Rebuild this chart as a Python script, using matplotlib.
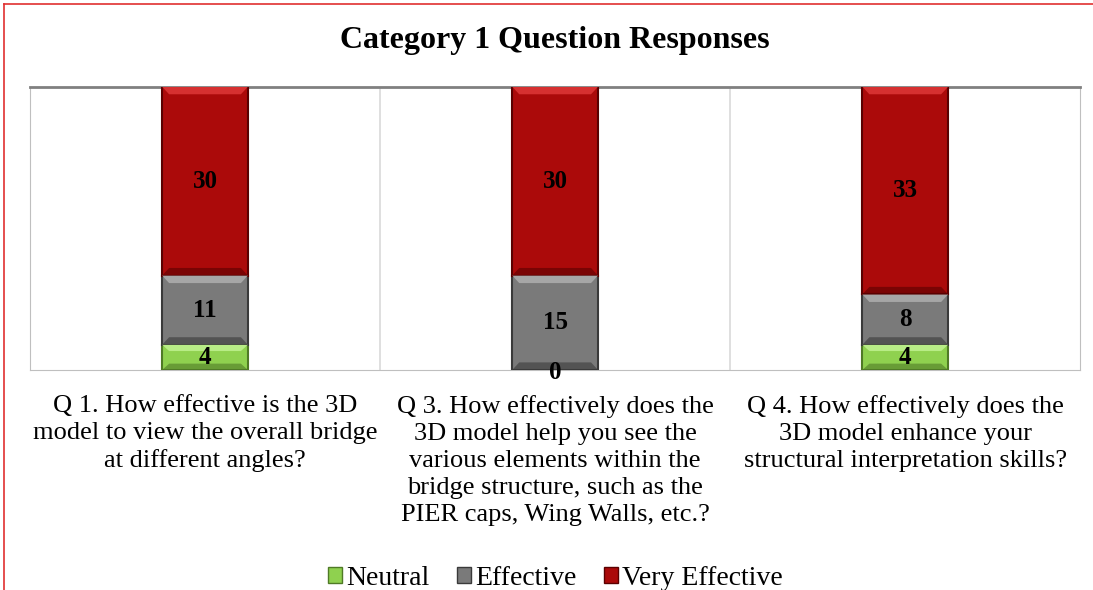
"""Category 1 question responses, stacked bars."""

import matplotlib.pyplot as plt
import numpy as np
from matplotlib.lines import Line2D
from matplotlib.patches import Patch, Polygon

plt.rcParams["font.family"] = ["Liberation Serif", "DejaVu Serif"]

questions = [
    "Q 1. How effective is the 3D\nmodel to view the overall bridge\nat different angles?",
    "Q 3. How effectively does the\n3D model help you see the\nvarious elements within the\nbridge structure, such as the\nPIER caps, Wing Walls, etc.?",
    "Q 4. How effectively does the\n3D model enhance your\nstructural interpretation skills?",
]
neutral = [4, 0, 4]
effective = [11, 15, 8]
very_effective = [30, 30, 33]

# name, values, face, edge, highlight
series = [
    ("Neutral", neutral, "#8fd14f", "#4f7a26", "#b8ec86"),
    ("Effective", effective, "#7a7a7a", "#3a3a3a", "#a6a6a6"),
    ("Very Effective", very_effective, "#ab0a0a", "#5a0000", "#d63030"),
]

BAR_W = 0.245

fig = plt.figure(figsize=(10.93, 5.90), dpi=100)
ax = fig.add_axes([0.0274, 0.373, 0.961, 0.480])

x = np.arange(len(questions))
bottom = np.zeros(len(questions))
for name, values, color, edge, light in series:
    vals = np.array(values, dtype=float)
    ax.bar(x, vals, bottom=bottom, width=BAR_W, color=color, edgecolor=edge,
           linewidth=1.5, label=name, zorder=3)
    # bevel highlight along the top of each segment
    for xi, b, v in zip(x, bottom, vals):
        if v <= 0:
            continue
        bev = min(1.2, v * 0.25)
        x0, x1 = xi - BAR_W / 2, xi + BAR_W / 2
        top = b + v
        ax.add_patch(Polygon([(x0, top), (x1, top), (x1 - 0.02, top - bev), (x0 + 0.02, top - bev)],
                             closed=True, facecolor=light, edgecolor="none", zorder=4))
        ax.add_patch(Polygon([(x0, b), (x1, b), (x1 - 0.02, b + bev), (x0 + 0.02, b + bev)],
                             closed=True, facecolor=edge, edgecolor="none", alpha=0.6, zorder=4))
    for xi, b, v in zip(x, bottom, vals):
        y = b + v / 2 if v > 0 else b - 0.4
        ax.text(xi, y, f"{int(v)}", ha="center", va="center", fontsize=18,
                fontweight="bold", color="black", zorder=5)
    bottom += vals

ax.set_xlim(-0.5, len(questions) - 0.5)
ax.set_ylim(0, 45)
ax.set_yticks([])
ax.set_xticks(x)
ax.set_xticklabels(questions, fontsize=19, linespacing=1.3)
ax.tick_params(axis="x", length=0, pad=18)
for xb in [0.5, 1.5]:
    ax.axvline(xb, color="#d9d9d9", linewidth=1.2, zorder=1)
for side in ["left", "right", "bottom"]:
    ax.spines[side].set_color("#bfbfbf")
ax.spines["top"].set_color("#808080")
ax.spines["top"].set_linewidth(2)

ax.set_title("Category 1 Question Responses", fontsize=23, fontweight="bold", pad=28)

handles = [Patch(facecolor=c, edgecolor=e, label=n) for n, _, c, e, _ in series]
fig.legend(handles=handles, loc="center", bbox_to_anchor=(0.508, 0.020), ncol=3,
           frameon=False, fontsize=20, handlelength=0.5, handleheight=0.5,
           handletextpad=0.15, columnspacing=1.0, borderpad=0.0)

# red frame along top and left edges
fig.add_artist(Line2D([0.004, 1.0], [0.994, 0.994], color="#e03030", linewidth=1.2,
                      transform=fig.transFigure))
fig.add_artist(Line2D([0.004, 0.004], [0.0, 0.994], color="#e03030", linewidth=1.2,
                      transform=fig.transFigure))

fig.savefig("out.png", dpi=100)
